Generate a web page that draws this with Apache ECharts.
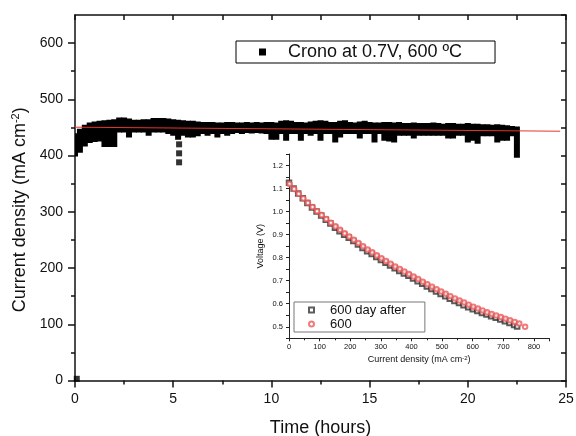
<!DOCTYPE html>
<html><head><meta charset="utf-8">
<script src="https://cdn.jsdelivr.net/npm/echarts@6/dist/echarts.min.js"></script>
<style>html,body{margin:0;padding:0;background:#fff}#c{width:576px;height:436px}</style>
</head><body><div id="c"></div>
<script>
// ---- main chart: chronoamperometry band (time in hours, current density) ----
const timeH = [0,0.25,0.5,0.75,1,1.25,1.5,1.75,2,2.25,2.5,2.75,3,3.25,3.5,3.75,4,4.25,4.5,4.75,
  5,5.25,5.5,5.75,6,6.25,6.5,6.75,7,7.25,7.5,7.75,8,8.25,8.5,8.75,9,9.25,9.5,9.75,
  10,10.25,10.5,10.75,11,11.25,11.5,11.75,12,12.25,12.5,12.75,13,13.25,13.5,13.75,14,14.25,14.5,14.75,
  15,15.25,15.5,15.75,16,16.25,16.5,16.75,17,17.25,17.5,17.75,18,18.25,18.5,18.75,19,19.25,19.5,19.75,
  20,20.25,20.5,20.75,21,21.25,21.5,21.75,22,22.25,22.5];
const bandHigh = [438,446,453,457,459,460,461,462,463,466,
  466,464,462,462,463,463,465,465,465,464,
  463,462,461,460,460,459,458,458,458,457,
  457,458,458,457,457,458,457,458,457,458,
  458,457,460,461,460,458,458,457,459,460,
  461,460,458,458,460,461,458,457,459,460,
  458,457,457,458,458,457,458,456,456,457,
  456,456,456,457,456,455,456,456,455,455,
  456,455,455,454,454,453,454,453,452,451,
  450];
const bandLow = [400,407,418,424,426,427,417,417,417,443,
  443,434,443,443,443,437,443,443,443,440,
  437,430,437,434,434,436,440,437,440,434,
  440,437,440,442,440,442,441,442,441,440,
  430,430,440,428,440,440,428,440,437,440,
  428,440,440,425,434,440,440,440,432,440,
  440,425,440,428,427,425,437,437,437,432,
  437,437,437,437,437,437,432,432,437,437,
  425,428,423,436,436,436,425,428,428,436,
  398];
const outlierT = [5.3, 5.3, 5.3, 0.09];
const outlierV = [420, 404, 388, 3];
const fitT = [0, 24.7];
const fitV = [450.5, 443.3];

// ---- inset: polarisation curves ----
const iAfter = [0,15,30,45,60,75,90,105,120,135,150,165,180,195,210,225,240,255,270,285,300,315,330,345,360,375,390,405,420,435,450,465,480,495,510,525,540,555,570,585,600,615,630,645,660,675,690,705,720,735,745];
const vAfter = [1.125,1.100,1.078,1.058,1.037,1.018,1.000,0.983,0.965,0.948,0.930,0.915,0.900,0.886,0.872,0.857,0.842,0.828,0.816,0.803,0.790,0.778,0.766,0.754,0.742,0.731,0.721,0.710,0.698,0.687,0.675,0.664,0.653,0.642,0.632,0.622,0.612,0.603,0.594,0.585,0.576,0.568,0.560,0.553,0.546,0.539,0.532,0.524,0.516,0.508,0.501];
const iFresh = [2,17,32,47,62,77,92,107,122,137,152,167,182,197,212,227,242,257,272,287,302,317,332,347,362,377,392,407,422,437,452,467,482,497,512,527,542,557,572,587,602,617,632,647,662,677,692,707,722,737,752,771];
const vFresh = [1.120,1.098,1.077,1.057,1.038,1.020,1.002,0.985,0.968,0.952,0.936,0.921,0.906,0.892,0.878,0.864,0.850,0.836,0.823,0.810,0.798,0.786,0.774,0.762,0.751,0.740,0.729,0.718,0.707,0.696,0.685,0.674,0.663,0.653,0.643,0.633,0.623,0.614,0.605,0.596,0.587,0.579,0.571,0.563,0.556,0.549,0.542,0.535,0.528,0.521,0.514,0.500];

const mainYTicks = [0,100,200,300,400,500,600];
const insetXLabels = [0,100,200,300,400,500,600,700,800];
const insetYLabels = [0.5,0.6,0.7,0.8,0.9,1.0,1.1,1.2];

const FONT = 'Liberation Sans, Arial, sans-serif';
const INK = '#111';
const chart = echarts.init(document.getElementById('c'), null, {renderer: 'canvas'});

const mainName = 'Crono at 0.7V, 600 ºC';
const axLine = {lineStyle: {color: INK, width: 1.5}, onZero: false};
const insLine = {lineStyle: {color: '#222', width: 1}, onZero: false};

const option = {
  backgroundColor: '#fff',
  textStyle: {fontFamily: FONT},
  animation: false,
  grid: [
    {left: 75, right: 10, top: 15, bottom: 55.5, containLabel: false, outerBoundsMode: 'none'},
    {left: 289, right: 26.7, top: 154, bottom: 97.7, containLabel: false, outerBoundsMode: 'none'}
  ],
  legend: [
    {
      left: 236, top: 41, padding: [2, 33, 2, 23],
      borderColor: '#000', borderWidth: 1,
      itemWidth: 7, itemHeight: 7,
      data: [{name: mainName, icon: 'rect'}],
      selectedMode: false,
      formatter: n => '{p|' + n + '}',
      textStyle: {fontSize: 18, color: INK, fontFamily: FONT,
        rich: {p: {fontSize: 18, color: INK, fontFamily: FONT, padding: [0, 0, 0, 17]}}}
    },
    {
      left: 294, top: 302, orient: 'vertical', itemGap: 0,
      padding: [1, 19, 1, 14],
      borderColor: '#777', borderWidth: 1,
      itemWidth: 5, itemHeight: 5,
      selectedMode: false,
      data: ['600 day after', '600'],
      formatter: n => '{p|' + n + '}',
      textStyle: {fontSize: 13, lineHeight: 14, color: INK, fontFamily: FONT,
        rich: {p: {fontSize: 13, lineHeight: 14, color: INK, fontFamily: FONT, padding: [0, 0, 0, 11]}}}
    }
  ],
  xAxis: [
    {type: 'value', gridIndex: 0, min: 0, max: 25, interval: 5, position: 'bottom',
      axisLine: axLine,
      axisTick: {length: 7, lineStyle: {color: INK, width: 1.5}},
      minorTick: {show: true, splitNumber: 2, length: 4, lineStyle: {color: INK, width: 1.5}},
      splitLine: {show: false},
      axisLabel: {fontSize: 14, color: INK, margin: 12, fontFamily: FONT},
      name: 'Time (hours)', nameLocation: 'middle', nameGap: 39,
      nameTextStyle: {fontSize: 18, color: INK, fontFamily: FONT}},
    {type: 'value', gridIndex: 0, min: 0, max: 25, interval: 2.5, position: 'top',
      axisLine: axLine,
      axisTick: {inside: true, length: 5, lineStyle: {color: INK, width: 1.5}},
      splitLine: {show: false}, axisLabel: {show: false}},
    {type: 'value', gridIndex: 1, min: 0, max: 850, interval: 100, position: 'bottom',
      axisLine: insLine,
      axisTick: {length: 3, lineStyle: {color: '#222', width: 1}},
      minorTick: {show: true, splitNumber: 2, length: 2, lineStyle: {color: '#222', width: 1}},
      splitLine: {show: false},
      axisLabel: {fontSize: 7.5, color: INK, margin: 5, fontFamily: FONT, showMaxLabel: false,
        formatter: v => insetXLabels.indexOf(v) >= 0 ? String(v) : ''},
      name: '{a|Current density (mA cm}{s|-2}{a|)}', nameLocation: 'middle', nameGap: 17,
      nameTextStyle: {fontSize: 9, color: INK, fontFamily: FONT,
        rich: {a: {fontSize: 9, color: INK, fontFamily: FONT}, s: {fontSize: 6, color: INK, fontFamily: FONT, verticalAlign: 'top'}}}}
  ],
  yAxis: [
    {type: 'value', gridIndex: 0, min: 0, max: 650, interval: 100, position: 'left',
      axisLine: axLine,
      axisTick: {length: 7, lineStyle: {color: INK, width: 1.5}, customValues: mainYTicks},
      minorTick: {show: true, splitNumber: 2, length: 4, lineStyle: {color: INK, width: 1.5}},
      splitLine: {show: false},
      axisLabel: {fontSize: 14, color: INK, margin: 12, fontFamily: FONT, customValues: mainYTicks},
      name: '{a|Current density (mA cm}{s|-2}{a|)}', nameLocation: 'middle', nameGap: 43,
      nameTextStyle: {fontSize: 18, color: INK, fontFamily: FONT, padding: [0, 24, 0, 0],
        rich: {a: {fontSize: 18, color: INK, fontFamily: FONT}, s: {fontSize: 11, color: INK, fontFamily: FONT, verticalAlign: 'top'}}}},
    {type: 'value', gridIndex: 0, min: 0, max: 650, interval: 50, position: 'right',
      axisLine: axLine,
      axisTick: {inside: true, length: 5, lineStyle: {color: INK, width: 1.5}},
      splitLine: {show: false}, axisLabel: {show: false}},
    {type: 'value', gridIndex: 1, min: 0.45, max: 1.25, interval: 0.05, position: 'left',
      axisLine: insLine,
      axisTick: {length: 3, lineStyle: {color: '#222', width: 1}},
      splitLine: {show: false},
      axisLabel: {fontSize: 7.5, color: INK, margin: 6, fontFamily: FONT,
        formatter: v => insetYLabels.some(l => Math.abs(l - v) < 1e-6) ? v.toFixed(1) : ''},
      name: 'Voltage (V)', nameLocation: 'middle', nameGap: 24,
      nameTextStyle: {fontSize: 9, color: INK, fontFamily: FONT}}
  ],
  series: [
    {
      name: mainName, type: 'custom', xAxisIndex: 0, yAxisIndex: 0, clip: true,
      itemStyle: {color: '#000'},
      encode: {x: 0, y: [1, 2]},
      data: timeH.map((t, i) => [t, bandHigh[i], bandLow[i]]),
      renderItem: function (params, api) {
        const t = api.value(0);
        const p1 = api.coord([t, api.value(1)]);
        const p2 = api.coord([t, api.value(2)]);
        return {type: 'rect', shape: {x: p1[0] - 3, y: p1[1] - 1, width: 6, height: p2[1] - p1[1] + 2},
          style: {fill: '#000'}};
      }
    },
    {
      name: mainName, type: 'scatter', xAxisIndex: 0, yAxisIndex: 0,
      symbol: 'rect', symbolSize: 6, itemStyle: {color: '#000'},
      data: outlierT.map((t, i) => [t, outlierV[i]])
    },
    {
      name: 'fit', type: 'line', xAxisIndex: 0, yAxisIndex: 0,
      showSymbol: false, symbol: 'none',
      lineStyle: {color: '#e8342c', width: 1},
      data: fitT.map((t, i) => [t, fitV[i]]), z: 5
    },
    {
      name: '600 day after', type: 'scatter', xAxisIndex: 2, yAxisIndex: 2,
      symbol: 'emptyRect', symbolSize: 4.5,
      itemStyle: {color: '#333', borderColor: '#333', borderWidth: 0.6},
      data: iAfter.map((x, i) => [x, vAfter[i]])
    },
    {
      name: '600', type: 'scatter', xAxisIndex: 2, yAxisIndex: 2,
      symbol: 'emptyCircle', symbolSize: 4.5,
      itemStyle: {color: '#ee5a5a', borderColor: '#ee5a5a', borderWidth: 0.6},
      data: iFresh.map((x, i) => [x, vFresh[i]])
    }
  ]
};
chart.setOption(option);
</script>
</body></html>
